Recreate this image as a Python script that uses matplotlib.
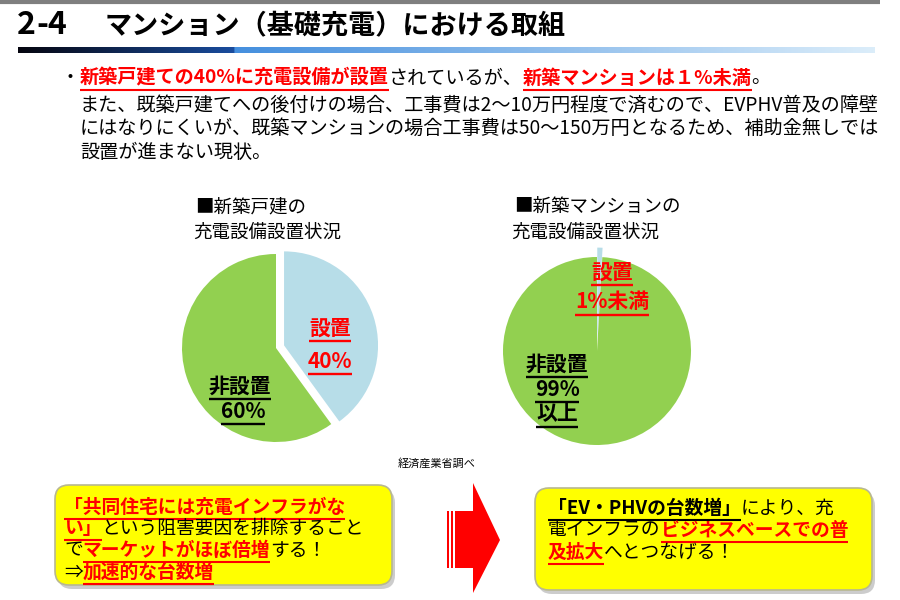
import numpy as np
import matplotlib.pyplot as plt
from matplotlib.patches import FancyBboxPatch, Polygon, Rectangle

plt.rcParams['font.family'] = ['Noto Sans CJK JP', 'DejaVu Sans']

RED = '#ff0000'
GREEN = '#92d050'
BLUE = '#b7dde8'

# pie data (share of new homes with charging equipment)
house_labels = ['設置', '非設置']
house_values = [40, 60]
mansion_labels = ['設置', '非設置']
mansion_values = [0.9, 99.1]

fig = plt.figure(figsize=(9, 6), dpi=100)
bg = fig.add_axes([0, 0, 1, 1])
bg.set_xlim(0, 900)
bg.set_ylim(600, 0)
bg.axis('off')
bg.set_zorder(2)
renderer = fig.canvas.get_renderer()


def runs(x, y, parts, size):
    # parts: (text, color, bold, underline) drawn one after another
    em = size * 100 / 72
    for s, c, b, ul in parts:
        t = bg.text(x, y, s, color=c, fontsize=size, zorder=5,
                    fontweight='bold' if b else 'normal', va='center', ha='left')
        w = t.get_window_extent(renderer).width
        if ul:
            bg.plot([x, x + w], [y + 0.62 * em] * 2, color=c, lw=1.5,
                    solid_capstyle='butt', zorder=5)
        x += w
    return x


def centered(cx, y, s, color, size, ul=True):
    t = bg.text(cx, y, s, color=color, fontsize=size, fontweight='bold',
                va='center', ha='center', zorder=5)
    w = t.get_window_extent(renderer).width
    em = size * 100 / 72
    if ul:
        bg.plot([cx - w / 2, cx + w / 2], [y + 0.62 * em] * 2, color=color,
                lw=1.7, solid_capstyle='butt', zorder=5)


# header
bg.plot([0, 880], [1.5, 1.5], color='#7f7f7f', lw=3, solid_capstyle='butt')
t24 = bg.text(17, 25, '2-4', fontsize=21.5, fontweight='bold', va='center', ha='left')
t24.set_fontstretch('expanded')
bg.text(17, 25, '', fontsize=1)
bg.text(105, 25, 'マンション（基礎充電）における取組', fontsize=19.5,
        fontweight='bold', va='center', ha='left')
# widen "2-4" a little by drawing it with spaced characters
t24.set_visible(False)
runs(17, 25, [('2', 'black', True, False), ('-', 'black', True, False),
              ('4', 'black', True, False)], 23)

# gradient bar under title
n = 400
xs = np.linspace(18, 875, n)
grad = np.zeros((1, n, 3))
for i, xv in enumerate(xs):
    if xv < 233:
        f = (xv - 18) / (233 - 18)
        grad[0, i] = (1 - f) * np.array([0.02, 0.02, 0.06]) + f * np.array([0.10, 0.30, 0.62])
    else:
        f = (xv - 233) / (875 - 233)
        grad[0, i] = (1 - f) * np.array([0.27, 0.56, 0.87]) + f * np.array([0.86, 0.93, 0.98])
bg.imshow(grad, extent=[18, 875, 53, 47], aspect='auto', zorder=1)
bg.set_xlim(0, 900)
bg.set_ylim(600, 0)

# bullet text
fs = 13.8
bg.text(70, 78, '・', fontsize=fs, va='center', ha='center')
runs(80, 78, [('新築戸建ての40%に充電設備が設置', RED, True, True),
              ('されているが、', 'black', False, False),
              ('新築マンションは１%未満', RED, True, True),
              ('。', 'black', False, False)], fs)
runs(80, 105, [('また、既築戸建てへの後付けの場合、工事費は2～10万円程度で済むので、EVPHV普及の障壁',
                'black', False, False)], fs)
runs(80, 128, [('にはなりにくいが、既築マンションの場合工事費は50～150万円となるため、補助金無しでは',
                'black', False, False)], fs)
runs(80, 152, [('設置が進まない現状。', 'black', False, False)], fs)

# pie headings
hs = 13.3
bg.text(195, 207, '■新築戸建の', fontsize=hs, va='center', ha='left')
bg.text(193, 233, '充電設備設置状況', fontsize=hs, va='center', ha='left')
bg.text(514, 207, '■新築マンションの', fontsize=hs, va='center', ha='left')
bg.text(511, 233, '充電設備設置状況', fontsize=hs, va='center', ha='left')


def pie_ax(cx, cy, r):
    half = 1.25 * r
    ax = fig.add_axes([(cx - half) / 900, (600 - cy - half) / 600,
                       2 * half / 900, 2 * half / 600])
    ax.set_zorder(1)
    return ax


ax1 = pie_ax(276, 348, 94)
ax1.pie(house_values, colors=[BLUE, GREEN], startangle=90, counterclock=False,
        explode=[0.09, 0], wedgeprops=dict(linewidth=0))
ax1.set_xlim(-1.25, 1.25)
ax1.set_ylim(-1.25, 1.25)
ax1.set_aspect('equal')

ax2 = pie_ax(597, 351, 94)
ax2.pie(mansion_values, colors=[BLUE, GREEN], startangle=90, counterclock=False,
        explode=[0.1, 0], wedgeprops=dict(linewidth=0))
ax2.set_xlim(-1.25, 1.25)
ax2.set_ylim(-1.25, 1.25)
ax2.set_aspect('equal')

# pie labels
ls = 15
centered(330, 328, house_labels[0], RED, ls)
centered(330, 361, f'{house_values[0]}%', RED, ls)
centered(240, 386, house_labels[1], 'black', ls)
centered(243, 411, f'{house_values[1]}%', 'black', ls)

centered(612, 272, mansion_labels[0], RED, ls)
centered(612, 302, '1%未満', RED, ls)
centered(557, 364, mansion_labels[1], 'black', ls)
centered(557, 389, '99%', 'black', ls)
centered(557, 414, '以上', 'black', ls)

bg.text(437, 463, '経済産業省調べ', fontsize=8, va='center', ha='center')

# yellow boxes
for x0, y0, x1, y1 in [(55, 485, 392, 585), (535, 488, 872, 590)]:
    bg.add_patch(FancyBboxPatch((x0 + 3, y0 + 4), x1 - x0, y1 - y0,
                                boxstyle='round,pad=0,rounding_size=14',
                                fc='#9a9a9a', ec='none', alpha=0.5, zorder=2))
    bg.add_patch(FancyBboxPatch((x0, y0), x1 - x0, y1 - y0,
                                boxstyle='round,pad=0,rounding_size=14',
                                fc='#ffff00', ec='#b8b890', lw=1.2, zorder=3))

bs = 13.5
runs(64, 507, [('「共同住宅には充電インフラがな', RED, True, True)], bs)
runs(64, 528, [('い」', RED, True, True),
               ('という阻害要因を排除すること', 'black', False, False)], bs)
runs(64, 550, [('で', 'black', False, False),
               ('マーケットがほぼ倍増', RED, True, True),
               ('する！', 'black', False, False)], bs)
runs(64, 572, [('⇒', 'black', False, False),
               ('加速的な台数増', RED, True, True)], bs)

runs(548, 508, [('「EV・PHVの台数増」', 'black', True, True),
                ('により、充', 'black', False, False)], bs)
runs(548, 530, [('電インフラの', 'black', False, False),
                ('ビジネスベースでの普', RED, True, True)], bs)
runs(548, 552, [('及拡大', RED, True, True),
                ('へとつなげる！', 'black', False, False)], bs)

# red arrow
bg.add_patch(Polygon([(455, 511), (473, 511), (473, 483), (500, 540),
                      (473, 593), (473, 568), (455, 568)],
                     closed=True, fc=RED, ec='none', zorder=4))
bg.add_patch(Rectangle((447, 511), 2, 57, fc=RED, ec='none', zorder=4))
bg.add_patch(Rectangle((451, 511), 2.2, 57, fc=RED, ec='none', zorder=4))

fig.savefig('out.png', dpi=100)
